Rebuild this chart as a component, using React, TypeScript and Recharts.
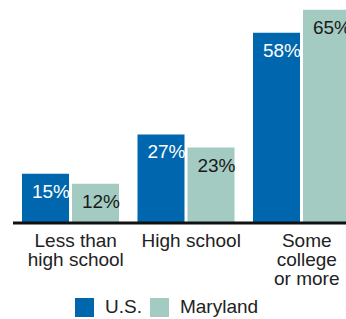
import React from "react";
import { BarChart, Bar, XAxis, YAxis, Legend, LabelList } from "recharts";

const categories = ["Less than\nhigh school", "High school", "Some\ncollege\nor more"];
const usValues = [15, 27, 58];
const marylandValues = [12, 23, 65];

const US_COLOR = "#0067ae";
const MD_COLOR = "#a3cbc1";
const FONT = "'Liberation Sans', Arial, sans-serif";

const data = categories.map((name, i) => ({
  name,
  us: usValues[i],
  md: marylandValues[i],
}));

const makeLabel = (color: string) => (props: any) => {
  const { x, y, width, value } = props;
  return (
    <text
      x={Number(x) + Number(width) + 1}
      y={Number(y) + 24}
      textAnchor="end"
      fill={color}
      fontSize={19}
      fontFamily={FONT}
    >
      {value}%
    </text>
  );
};

const CategoryTick = (props: any) => {
  const { x, y, payload } = props;
  const lines = String(payload.value).split("\n");
  return (
    <text
      x={x + 5}
      y={y}
      textAnchor="middle"
      fill="#222"
      fontSize={19}
      fontFamily={FONT}
    >
      {lines.map((line, i) => (
        <tspan key={i} x={x + 5} dy={i === 0 ? 24 : 19}>
          {line}
        </tspan>
      ))}
    </text>
  );
};

const CustomLegend = () => {
  const items = [
    { label: "U.S.", color: US_COLOR },
    { label: "Maryland", color: MD_COLOR },
  ];
  return (
    <div
      style={{
        display: "flex",
        alignItems: "center",
        paddingLeft: 75,
        fontFamily: FONT,
        fontSize: 19,
        color: "#222",
        height: 22,
      }}
    >
      {items.map((item) => (
        <div key={item.label} style={{ display: "flex", alignItems: "center", marginRight: 8 }}>
          <span
            style={{
              width: 19,
              height: 19,
              backgroundColor: item.color,
              display: "inline-block",
              marginRight: 11,
            }}
          ></span>
          <span>{item.label}</span>
        </div>
      ))}
    </div>
  );
};

export default function App() {
  return (
    <div
      style={{
        position: "absolute",
        left: 0,
        top: 0,
        width: 346,
        height: 319,
        overflow: "hidden",
      }}
    >
      <BarChart
        width={360}
        height={319}
        data={data}
        margin={{ top: 0, right: 0.5, bottom: 0, left: 13 }}
        barSize={47}
        barGap={3}
      >
        <YAxis hide domain={[0, 68]} />
        <XAxis
          dataKey="name"
          height={73}
          axisLine={{ stroke: "#111", strokeWidth: 3 }}
          tickLine={false}
          tickSize={0}
          tickMargin={0}
          interval={0}
          tick={<CategoryTick />}
        />
        <Legend
          verticalAlign="bottom"
          height={23}
          content={<CustomLegend />}
          wrapperStyle={{ left: 0, width: 360 }}
        />
        <Bar dataKey="us" name="U.S." fill={US_COLOR} isAnimationActive={false}>
          <LabelList dataKey="us" content={makeLabel("#ffffff")} />
        </Bar>
        <Bar dataKey="md" name="Maryland" fill={MD_COLOR} isAnimationActive={false}>
          <LabelList dataKey="md" content={makeLabel("#1a1a1a")} />
        </Bar>
      </BarChart>
    </div>
  );
}
